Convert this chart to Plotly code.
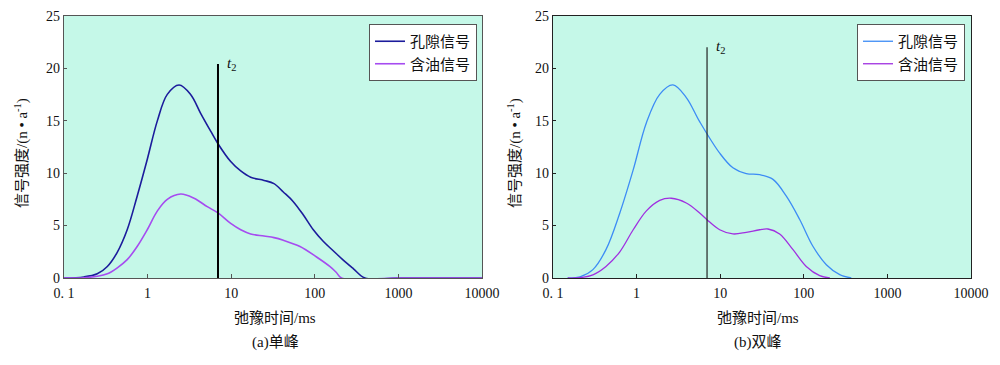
import plotly.graph_objects as go

# ---- data (a) single peak ----
xa_pore = [0.1, 0.173, 0.25, 0.33, 0.43, 0.57, 0.75, 0.99, 1.31, 1.72, 2.38, 3.27, 4.31, 5.68, 6.95, 9.86,
           13, 17.1, 24.7, 32.5, 42, 55, 73, 96, 126, 166, 219, 288, 398, 1000, 10000]
ya_pore = [0, 0.1, 0.4, 1.1, 2.4, 4.6, 7.8, 11.3, 15.0, 17.5, 18.4, 17.5, 15.7, 14.0, 12.8, 11.1,
           10.2, 9.6, 9.3, 9.0, 8.2, 7.3, 6.0, 4.6, 3.5, 2.6, 1.7, 0.9, 0, 0, 0]
xa_oil = [0.1, 0.173, 0.25, 0.33, 0.43, 0.57, 0.75, 0.99, 1.31, 1.72, 2.49, 3.59, 5.17, 6.95, 9.86, 13,
          17.1, 24.7, 32.5, 42, 66.5, 105, 151, 180, 209, 1000, 10000]
ya_oil = [0, 0.03, 0.16, 0.4, 0.95, 1.75, 3.0, 4.6, 6.4, 7.5, 8.0, 7.6, 6.8, 6.2, 5.2, 4.6,
          4.2, 4.0, 3.85, 3.6, 3.0, 2.0, 1.1, 0.55, 0, 0, 0]

# ---- data (b) double peak ----
xb_pore = [0.15, 0.21, 0.30, 0.43, 0.63, 0.91, 1.31, 1.89, 2.72, 3.93, 5.68, 9.86, 14.2, 20.5, 29.7,
           42.8, 61.8, 89, 129, 186, 269, 370]
yb_pore = [0, 0.1, 0.8, 2.7, 6.2, 10.3, 14.8, 17.5, 18.4, 17.2, 14.9, 11.9, 10.5, 9.95, 9.85,
           9.4, 7.8, 5.6, 3.0, 1.27, 0.32, 0]
xb_oil = [0.15, 0.21, 0.30, 0.43, 0.63, 0.91, 1.31, 1.89, 2.6, 3.93, 5.68, 6.95, 9.86, 14.2, 20.5, 29.7,
          37.3, 51.4, 74.3, 107, 155, 205]
yb_oil = [0, 0.03, 0.3, 1.1, 2.5, 4.6, 6.4, 7.4, 7.6, 7.15, 6.2, 5.56, 4.6, 4.2, 4.35, 4.6,
          4.67, 4.2, 2.7, 1.1, 0.22, 0]

t2_a = 6.95
t2_a_top = 20.4
t2_b = 6.96
t2_b_top = 22.0

tick_vals = [0.1, 1, 10, 100, 1000, 10000]
tick_text = ["0. 1", "1", "10", "100", "1000", "10000"]
y_ticks = [0, 5, 10, 15, 20, 25]

series_names = ["孔隙信号", "含油信号"]
x_title = "弛豫时间/ms"
y_title = "信号强度/(n • a<sup>-1</sup>)"
captions = ["(a)单峰", "(b)双峰"]

BG = "#c5f8e8"
FONT = "Liberation Serif, Noto Sans CJK SC"
SM = 1.0

fig = go.Figure()

fig.add_trace(go.Scatter(x=xa_pore, y=ya_pore, mode="lines",
                         line=dict(color="#1c1c9c", width=1.6, shape="spline", smoothing=SM),
                         name=series_names[0], xaxis="x", yaxis="y", legend="legend"))
fig.add_trace(go.Scatter(x=xa_oil, y=ya_oil, mode="lines",
                         line=dict(color="#a64cf0", width=1.6, shape="spline", smoothing=SM),
                         name=series_names[1], xaxis="x", yaxis="y", legend="legend"))
fig.add_trace(go.Scatter(x=[t2_a, t2_a], y=[0, t2_a_top], mode="lines", line=dict(color="black", width=2),
                         showlegend=False, xaxis="x", yaxis="y"))

fig.add_trace(go.Scatter(x=xb_pore, y=yb_pore, mode="lines",
                         line=dict(color="#3d8cf5", width=1.3, shape="spline", smoothing=SM),
                         name=series_names[0], xaxis="x2", yaxis="y2", legend="legend2"))
fig.add_trace(go.Scatter(x=xb_oil, y=yb_oil, mode="lines",
                         line=dict(color="#a030e0", width=1.3, shape="spline", smoothing=SM),
                         name=series_names[1], xaxis="x2", yaxis="y2", legend="legend2"))
fig.add_trace(go.Scatter(x=[t2_b, t2_b], y=[0, t2_b_top], mode="lines", line=dict(color="#222", width=1.2),
                         showlegend=False, xaxis="x2", yaxis="y2"))

ydom = [87 / 365, 349.3 / 365]
xcommon = dict(type="log", range=[-1, 4], tickvals=tick_vals, ticktext=tick_text, ticks="inside", ticklen=4,
               showline=True, mirror=True, linewidth=1.3, showgrid=False, zeroline=False, automargin=False,
               ticklabelstandoff=2, tickfont=dict(family=FONT, size=14, color="#111"))
ycommon = dict(range=[0, 25], tickvals=y_ticks, ticks="inside", ticklen=3, showline=True, mirror=True,
               linewidth=1.3, showgrid=False, zeroline=False, automargin=False,
               tickfont=dict(family=FONT, size=14, color="#111"))

fig.update_layout(
    width=1000, height=365,
    margin=dict(l=0, r=0, t=0, b=0),
    paper_bgcolor="white", plot_bgcolor=BG,
    font=dict(family=FONT, size=14, color="#111"),
    xaxis=dict(domain=[0.064, 0.482], anchor="y", linecolor="#555", tickcolor="#555", **xcommon),
    yaxis=dict(domain=ydom, anchor="x", linecolor="#555", tickcolor="#555", **ycommon),
    xaxis2=dict(domain=[0.553, 0.971], anchor="y2", linecolor="#222", tickcolor="#222", **xcommon),
    yaxis2=dict(domain=ydom, anchor="x2", linecolor="#222", tickcolor="#222", **ycommon),
    legend=dict(x=0.477, y=1 - 24 / 365, xanchor="right", yanchor="top", bgcolor="white",
                bordercolor="#555", borderwidth=1, font=dict(family=FONT, size=15),
                itemwidth=30, tracegroupgap=0),
    legend2=dict(x=0.965, y=1 - 24 / 365, xanchor="right", yanchor="top", bgcolor="white",
                 bordercolor="#555", borderwidth=1, font=dict(family=FONT, size=15),
                 itemwidth=30, tracegroupgap=0),
)

ann = []
for cx, ytx, cap in [(0.275, 0.022, captions[0]), (0.758, 0.515, captions[1])]:
    ann.append(dict(x=cx, y=1 - 318 / 365, xref="paper", yref="paper", text=x_title, showarrow=False,
                    font=dict(family=FONT, size=15), xanchor="center", yanchor="middle"))
    ann.append(dict(x=cx, y=1 - 342 / 365, xref="paper", yref="paper", text=cap, showarrow=False,
                    font=dict(family=FONT, size=15), xanchor="center", yanchor="middle"))
    ann.append(dict(x=ytx, y=1 - 153 / 365, xref="paper", yref="paper", text=y_title, showarrow=False,
                    textangle=-90, font=dict(family=FONT, size=15), xanchor="center", yanchor="middle"))

ann.append(dict(x=0.925, y=t2_a_top, xref="x", yref="y", text="<i>t</i><sub>2</sub>", showarrow=False,
                xanchor="left", yanchor="middle", font=dict(family=FONT, size=15)))
ann.append(dict(x=0.925, y=t2_b_top, xref="x2", yref="y2", text="<i>t</i><sub>2</sub>", showarrow=False,
                xanchor="left", yanchor="middle", font=dict(family=FONT, size=15)))
fig.update_layout(annotations=ann)

fig.write_html("out.html", config={"displayModeBar": False},
               post_script="document.body.style.margin='0';document.body.style.overflow='hidden';")
